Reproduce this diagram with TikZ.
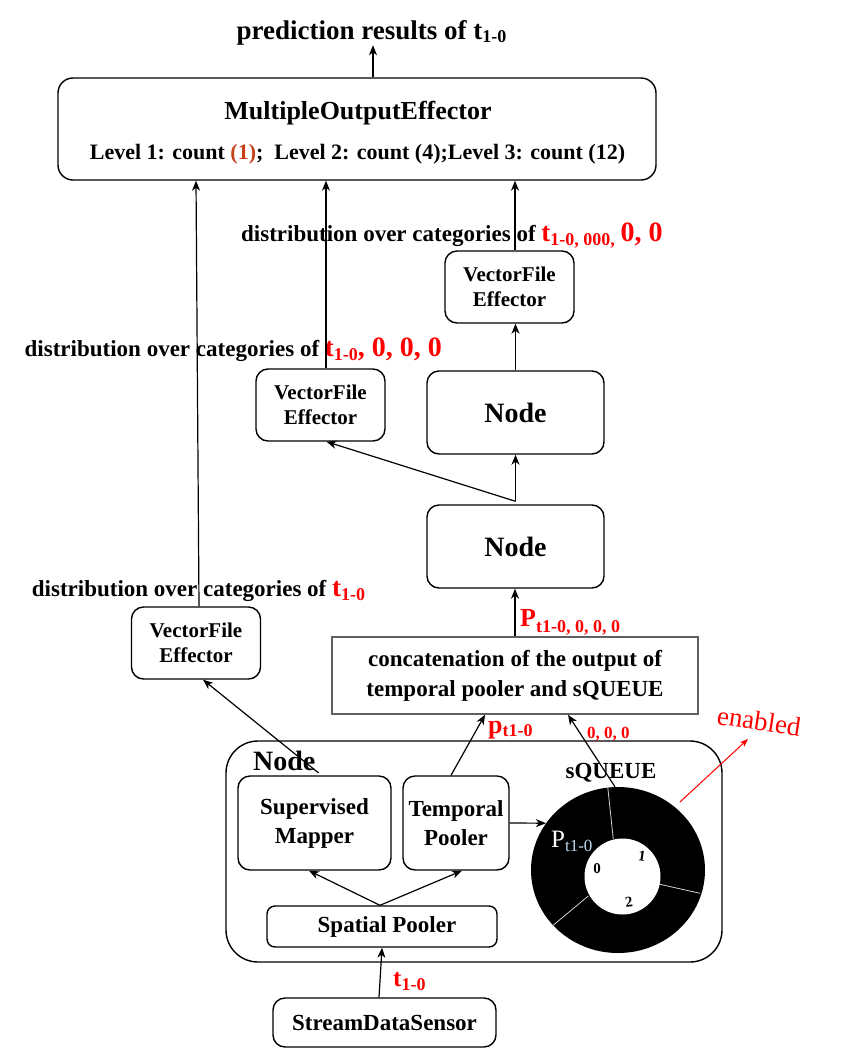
\documentclass[tikz,border=0pt]{standalone}
\usepackage{fontspec}
\setmainfont{Liberation Serif}
\usetikzlibrary{arrows.meta,shapes.geometric,calc}
\definecolor{onered}{RGB}{200,64,26}
\definecolor{ringsub}{RGB}{190,215,240}
\definecolor{catgray}{RGB}{96,96,96}
\newcommand\fz[1]{\fontsize{#1}{#1}\selectfont}
\newcommand\fzz[2]{\fontsize{#1}{#2}\selectfont}
\newcommand\rsub[2][-4pt]{\raisebox{#1}{\fz{18}#2}}
\begin{document}
\begin{tikzpicture}[x=1pt,y=-1pt,
  >={Stealth[length=10pt,width=8pt,inset=3pt]},
  box/.style={draw, line width=1.4pt, rounded corners=12pt, inner sep=0pt, align=center},
  conn/.style={->, line width=1.2pt},
  lab/.style={inner sep=0pt, anchor=base west},
  ctr/.style={inner sep=0pt, anchor=base}]
\path[use as bounding box, fill=white] (0,0) rectangle (844,1050);

% top
\node[box, rounded corners=15pt, minimum width=598pt, minimum height=102pt] (moe) at (357,129) {};
\node[ctr, font=\bfseries\fz{26}] (moet) at (358,119.3) {MultipleOutputEffector};
\node[ctr, font=\bfseries\fz{22}] (moel) at (357.5,159) {Level 1: count \textcolor{onered}{(1)};\ \ Level 2: count (4);Level 3: count (12)};
\node[ctr, font=\bfseries\fz{27}] (title) at (371.5,39.3) {prediction results of t\rsub[-3pt]{1-0}};

% effectors
\node[box, minimum width=129pt, minimum height=72pt, font=\bfseries\fzz{21}{25}] (vfeA) at (196,643) {VectorFile\\Effector};
\node[box, minimum width=129pt, minimum height=72pt, font=\bfseries\fzz{21}{25}] (vfeB) at (320.5,405) {VectorFile\\Effector};
\node[box, minimum width=129pt, minimum height=72pt, font=\bfseries\fzz{21}{25}] (vfeC) at (509.5,287) {VectorFile\\Effector};

% nodes
\node[box, minimum width=177pt, minimum height=83pt, font=\bfseries\fz{28}] (nodeB) at (515.5,412.5) {Node};
\node[box, minimum width=177pt, minimum height=83pt, font=\bfseries\fz{28}] (nodeA) at (515.5,546.5) {Node};
\node[draw=catgray, line width=1.5pt, inner sep=0pt, align=center, minimum width=366pt, minimum height=77pt, font=\bfseries\fzz{23}{30}] (cat) at (515,675.5) {concatenation of the output of\\temporal pooler and sQUEUE};

% labels
\node[lab, font=\bfseries\fz{23}] (dC) at (241,241.7) {distribution over categories of \textcolor{red}{{\fz{27}t}\rsub{1-0, 000,} {\fz{28}0, 0}}};
\node[lab, font=\bfseries\fz{23}] (dB) at (24.5,356.7) {distribution over categories of \textcolor{red}{{\fz{27}t}\rsub{1-0}{\fz{28}, 0, 0, 0}}};
\node[lab, font=\bfseries\fz{23}] (dA) at (31.7,596) {distribution over categories of \textcolor{red}{{\fz{27}t}\rsub{1-0}}};

% outer node
\node[box, rounded corners=32pt, minimum width=496pt, minimum height=221pt] (outer) at (474,851.5) {};
\node[lab, font=\bfseries\fz{28}] (outerlab) at (253,770) {Node};
\node[box, minimum width=153pt, minimum height=94pt, font=\bfseries\fzz{23}{29}] (sm) at (314.5,823) {Supervised\\Mapper};
\node[box, minimum width=106pt, minimum height=94pt, font=\bfseries\fzz{23}{29}] (tp) at (456,823) {Temporal\\Pooler};
\node[box, rounded corners=8pt, minimum width=230pt, minimum height=41pt, font=\bfseries\fz{23}] (sp) at (382,926.5) {\hspace*{10pt}Spatial Pooler};
\node[box, minimum width=223pt, minimum height=49pt, font=\bfseries\fz{23}] (sds) at (384.5,1022.5) {StreamDataSensor};

% ring
\node[ellipse, fill=black, inner sep=0pt, minimum width=174pt, minimum height=166pt] (ring) at (618,870) {};
\node[circle, fill=white, inner sep=0pt, minimum size=76pt] (hole) at (622.5,876.5) {};
\draw[gray!35, line width=0.8pt] (607.7,786.7) -- (613.3,839.3);
\draw[gray!35, line width=0.8pt] (660,884.3) -- (700,893.3);
\draw[gray!35, line width=0.8pt] (588.3,896) -- (552.3,926);
\node[font=\bfseries\fz{15}, inner sep=0pt] (r0) at (597,869) {0};
\node[font=\bfseries\fz{15}, inner sep=0pt, rotate=-8] (r1) at (642,856) {1};
\node[font=\bfseries\fz{15}, inner sep=0pt, rotate=8] (r2) at (629,902) {2};
\node[lab, text=white, font=\fz{25}] (pring) at (551,847.3) {P\raisebox{-4pt}{\fz{17}\textcolor{ringsub}{t1-0}}};
\node[ctr, font=\bfseries\fz{23}] (sq) at (611,778.3) {sQUEUE};

% red labels
\node[lab, text=red, font=\bfseries\fz{25}] (tin) at (393,986.7) {t\rsub{1-0}};
\node[lab, text=red, font=\bfseries\fz{26}] (plab) at (488,733) {p\rsub[-3pt]{t1-0}};
\node[lab, text=red, font=\bfseries\fz{17}] (zlab) at (587,738) {0, 0, 0};
\node[lab, text=red, font=\bfseries\fz{26}] (Plab) at (520,626.7) {P\rsub[-6pt]{t1-0, 0, 0, 0}};
\node[lab, text=red, font=\fz{27}, rotate=-8.7] (en) at (716,724) {enabled};

% connectors
\draw[conn] ([xshift=16pt]moe.north) -- ([xshift=16pt]moe.north |- title.south);
\draw[conn] ([xshift=3pt]vfeA.north) -- ([xshift=-161pt]moe.south);
\draw[conn] ([xshift=5.5pt]vfeB.north) -- ([xshift=5.5pt]vfeB.north |- moe.south);
\draw[conn] ([xshift=5.5pt]vfeC.north) -- ([xshift=5.5pt]vfeC.north |- moe.south);
\draw[conn] (nodeB.north) -- (nodeB.north |- vfeC.south);
\coordinate (jn) at ([yshift=3pt]nodeA.north);
\draw[conn] (jn) -- (nodeB.south);
\draw[conn] (jn) -- ([xshift=6pt]vfeB.south);
\draw[conn] (cat.north) -- (cat.north |- nodeA.south);
\draw[conn] ([shift={(3pt,-3pt)}]outerlab.base east) -- ([xshift=7pt]vfeA.south);
\draw[conn] ([xshift=-5pt]tp.north) -- ([xshift=-30pt]cat.south);
\draw[conn] ([xshift=-3pt]ring.north) -- ([xshift=53pt]cat.south);
\draw[conn] (tp.east) -- (ring.147);
\coordinate (spj) at ([xshift=-2pt]sp.north);
\draw[conn] (spj) -- ([xshift=-5.5pt]sm.south);
\draw[conn] (spj) -- ([xshift=6pt]tp.south);
\draw[conn] ([xshift=-5.5pt]sds.north) -- (sp.south);
\coordinate (enS) at (680,802);
\coordinate (enT) at (748,739);
\draw[->, red, line width=1pt, >={Stealth[length=8pt,width=6pt,inset=2pt]}] (enS) -- (enT);
\end{tikzpicture}
\end{document}
